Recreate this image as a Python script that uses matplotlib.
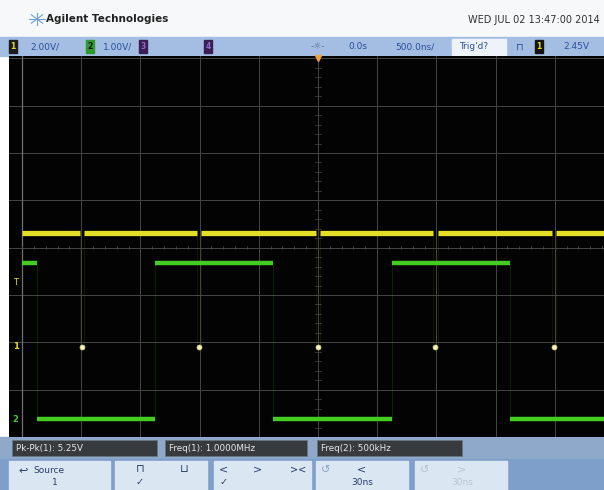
import numpy as np
import matplotlib.pyplot as plt
from matplotlib.patches import Rectangle

# scope settings
t_div_ns = 500
ch1_v_div = 2.00
ch2_v_div = 1.00
ch1_gnd_div = -2.09
ch2_gnd_div = -3.63
trig_level_v = 2.45

# channel 1 (yellow): high level with narrow low pulses, 1 MHz
ch1_high_v = 4.8
ch1_low_v = 0.0
ch1_pulse_ns = [-2010, -1020, -15, 975, 1975]
ch1_pulse_w_ns = 35

# channel 2 (green): 500 kHz square wave, starts high
ch2_high_v = 3.31
ch2_low_v = 0.0
ch2_edges_ns = [-2373, -1377, -380, 625, 1622]

meas_labels = ["Pk-Pk(1): 5.25V", "Freq(1): 1.0000MHz", "Freq(2): 500kHz"]

# view limits (ns, divisions)
t_start = -5 * t_div_ns
view_x = (-2610, 2416)
view_y = (-4.0, 4.05)

YEL = '#e4df26'
GRN = '#44cc22'
GRID = '#464646'

fig = plt.figure(figsize=(6.04, 4.90), dpi=100, facecolor='white')

# background / frame in pixel coords
bg = fig.add_axes([0, 0, 1, 1])
bg.set_xlim(0, 604)
bg.set_ylim(490, 0)
bg.axis('off')

# title row
bg.add_patch(Rectangle((0, 0), 604, 37, color='#f7f8f9'))
for a in np.linspace(0, np.pi, 4, endpoint=False):
    bg.plot([37 - 8*np.cos(a), 37 + 8*np.cos(a)], [19 - 6*np.sin(a), 19 + 6*np.sin(a)],
            color='#6fa0d8', lw=0.8)
bg.text(46, 19, "Agilent Technologies", fontsize=7.5, fontweight='bold', color='#222222', va='center')
bg.text(600, 20, "WED JUL 02 13:47:00 2014", fontsize=7, color='#303030', va='center', ha='right')

# status bar
bg.add_patch(Rectangle((0, 37), 604, 19, color='#a3bee2'))
bar_y = 46.5
def chbox(x, fc, lab, tc):
    bg.add_patch(Rectangle((x, 40), 8, 13, color=fc))
    bg.text(x + 4, bar_y, lab, fontsize=5.5, color=tc, ha='center', va='center', fontweight='bold')
chbox(9, '#1c1c1c', '1', YEL)
bg.text(30, bar_y, "2.00V/", fontsize=6.5, color='#2b4f9e', va='center')
chbox(86, '#2f9a2f', '2', '#111111')
bg.text(103, bar_y, "1.00V/", fontsize=6.5, color='#2b4f9e', va='center')
chbox(139, '#3a1d55', '3', '#8c6cc0')
chbox(204, '#3a1d55', '4', '#8c6cc0')
bg.text(318, bar_y, "-☼-", fontsize=6.5, color='#4f6f9a', ha='center', va='center')
bg.text(348, bar_y, "0.0s", fontsize=6.5, color='#2b4f9e', va='center')
bg.text(395, bar_y, "500.0ns/", fontsize=6.5, color='#2b4f9e', va='center')
bg.add_patch(Rectangle((452, 39), 54, 16, color='#eef3fa'))
bg.text(459, bar_y, "Trig'd?", fontsize=6.5, color='#2b4f9e', va='center')
bg.text(520, bar_y, "⊓", fontsize=7, color='#2b4f9e', ha='center', va='center')
chbox(535, '#141414', '1', YEL)
bg.text(563, bar_y, "2.45V", fontsize=6.5, color='#2b4f9e', va='center')

# measurement bar
bg.add_patch(Rectangle((0, 437), 604, 22, color='#8fa9cb'))
for (x0, x1), lab in zip([(12, 157), (165, 307), (317, 462)], meas_labels):
    bg.add_patch(Rectangle((x0, 440), x1 - x0, 16, facecolor='#383b3d', edgecolor='#6a7480', lw=0.6))
    bg.text(x0 + 4, 448, lab, fontsize=6.3, color='#e8e8e8', va='center')

# softkey row
bg.add_patch(Rectangle((0, 459), 604, 31, color='#7f9fcb'))
keys = [(9, 110), (115, 207), (214, 311), (316, 408), (415, 507)]
for x0, x1 in keys:
    bg.add_patch(Rectangle((x0, 461), x1 - x0, 32, color='#dbe6f3'))
bg.text(18, 470, "↩", fontsize=8, color='#2a3f6a', va='center')
bg.text(33, 470, "Source", fontsize=6.5, color='#2a3f6a', va='center')
bg.text(55, 482, "1", fontsize=6.5, color='#2a3f6a', va='center', ha='center')
bg.text(140, 469, "⊓", fontsize=8, color='#2a3f6a', va='center', ha='center')
bg.text(184, 469, "⊔", fontsize=8, color='#2a3f6a', va='center', ha='center')
bg.text(140, 482, "✓", fontsize=7, color='#2a3f6a', va='center', ha='center')
bg.text(224, 469, "<", fontsize=8, color='#2a3f6a', va='center', ha='center')
bg.text(258, 469, ">", fontsize=8, color='#2a3f6a', va='center', ha='center')
bg.text(298, 469, "><", fontsize=7, color='#2a3f6a', va='center', ha='center')
bg.text(224, 482, "✓", fontsize=7, color='#2a3f6a', va='center', ha='center')
bg.text(326, 470, "↺", fontsize=8, color='#8aa0c0', va='center', ha='center')
bg.text(362, 469, "<", fontsize=8, color='#2a3f6a', va='center', ha='center')
bg.text(362, 482, "30ns", fontsize=6.5, color='#2a3f6a', va='center', ha='center')
bg.text(425, 470, "↺", fontsize=8, color='#b8c4d4', va='center', ha='center')
bg.text(462, 469, ">", fontsize=8, color='#b8c4d4', va='center', ha='center')
bg.text(462, 482, "30ns", fontsize=6.5, color='#b8c4d4', va='center', ha='center')

# scope screen
ax = fig.add_axes([9/604, (490-437)/490, (604-9)/604, (437-56)/490], facecolor='#030303')
ax.set_xlim(*view_x)
ax.set_ylim(*view_y)
ax.set_xticks([])
ax.set_yticks([])
for s in ax.spines.values():
    s.set_visible(False)

# graticule
for k in range(-5, 6):
    ax.axvline(k * t_div_ns, color=GRID, lw=0.7, zorder=1)
for k in range(-4, 5):
    ax.axhline(k, color=GRID, lw=0.7, zorder=1)
ax.axvline(-5 * t_div_ns, color='#707070', lw=0.9, zorder=1)
for t in np.arange(-2500, 2501, 100):
    ax.plot([t, t], [-0.035, 0.035], color=GRID, lw=0.5, zorder=1)
for v in np.arange(-4, 4.01, 0.2):
    ax.plot([-25, 25], [v, v], color=GRID, lw=0.5, zorder=1)

# channel 1
hi1 = ch1_gnd_div + ch1_high_v / ch1_v_div
lo1 = ch1_gnd_div + ch1_low_v / ch1_v_div
bounds = [t_start]
for p in ch1_pulse_ns:
    bounds += [p, p + ch1_pulse_w_ns]
bounds.append(view_x[1])
for i in range(0, len(bounds) - 1, 2):
    ax.plot([bounds[i], bounds[i + 1]], [hi1, hi1], color=YEL, lw=3.8, solid_capstyle='butt', zorder=4)
for p in ch1_pulse_ns:
    ax.plot([p, p], [lo1, hi1], color=YEL, lw=0.5, alpha=0.1, zorder=3)
    ax.plot([p + ch1_pulse_w_ns] * 2, [lo1, hi1], color=YEL, lw=0.5, alpha=0.1, zorder=3)
    ax.plot([p + ch1_pulse_w_ns / 2], [lo1], marker='o', ms=3.6, color='#f2f0c4', mec='#d8d070', mew=0.5, zorder=4)

# channel 2
hi2 = ch2_gnd_div + ch2_high_v / ch2_v_div
lo2 = ch2_gnd_div + ch2_low_v / ch2_v_div
edges = [t_start] + ch2_edges_ns + [view_x[1]]
for i in range(len(edges) - 1):
    lvl = hi2 if i % 2 == 0 else lo2
    ax.plot([edges[i], edges[i + 1]], [lvl, lvl], color=GRN, lw=3.2, solid_capstyle='butt', zorder=4)
for e in ch2_edges_ns:
    ax.plot([e, e], [lo2, hi2], color=GRN, lw=0.5, alpha=0.2, zorder=3)

# ground / trigger markers on the left edge
yax = ax.get_yaxis_transform()
ax.text(0.006, ch1_gnd_div, "1", transform=yax, fontsize=6, color=YEL, va='center', fontweight='bold')
ax.text(0.006, ch2_gnd_div, "2", transform=yax, fontsize=6, color=GRN, va='center', fontweight='bold')
trig_div = ch1_gnd_div + trig_level_v / ch1_v_div
ax.text(0.006, trig_div + 0.12, "T", transform=yax, fontsize=6, color=YEL, va='center')

# trigger position marker
ax.plot([0], [view_y[1] - 0.05], marker='v', color='#f0a040', ms=5, clip_on=False, zorder=5)

fig.savefig('out.png', dpi=100, facecolor=fig.get_facecolor())
